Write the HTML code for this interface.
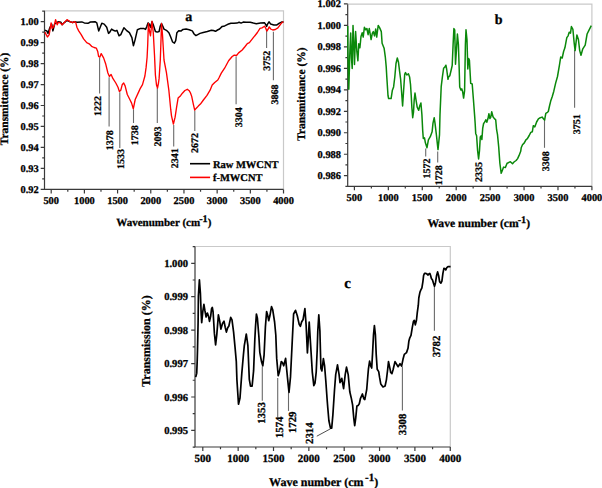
<!DOCTYPE html>
<html><head><meta charset="utf-8"><style>
html,body{margin:0;padding:0;background:#fff;}
svg{display:block;}
text{stroke:#000;stroke-width:0.28px;fill:#000;}
</style></head><body>
<svg width="602" height="488" viewBox="0 0 602 488" font-family="Liberation Serif" font-weight="bold" text-rendering="geometricPrecision" stroke-linecap="butt">
<rect width="602" height="488" fill="#fff"/>
<path d="M44.5,10.8H283.5V189.4" fill="none" stroke="#c9c9c9" stroke-width="1.2"/>
<path d="M44.5,10.8V189.4H283.5" fill="none" stroke="#3a3a3a" stroke-width="1.2"/>
<path d="M51.20,189.4v4 M67.80,189.4v2.3 M84.39,189.4v4 M100.98,189.4v2.3 M117.58,189.4v4 M134.18,189.4v2.3 M150.77,189.4v4 M167.36,189.4v2.3 M183.96,189.4v4 M200.55,189.4v2.3 M217.15,189.4v4 M233.74,189.4v2.3 M250.34,189.4v4 M266.93,189.4v2.3 M283.53,189.4v4 M283.50,189.4v4" stroke="#3a3a3a" stroke-width="1.2"/>
<path d="M44.5,189.40h-3.8 M44.5,168.43h-3.8 M44.5,147.45h-3.8 M44.5,126.47h-3.8 M44.5,105.50h-3.8 M44.5,84.53h-3.8 M44.5,63.55h-3.8 M44.5,42.57h-3.8 M44.5,21.60h-3.8 M44.5,178.91h-2.3 M44.5,157.94h-2.3 M44.5,136.96h-2.3 M44.5,115.99h-2.3 M44.5,95.01h-2.3 M44.5,74.04h-2.3 M44.5,53.06h-2.3 M44.5,32.09h-2.3 M44.5,11.11h-2.3" stroke="#3a3a3a" stroke-width="1.2"/>
<text x="38.7" y="192.94" text-anchor="end" font-size="10.4">0.92</text>
<text x="38.7" y="171.96" text-anchor="end" font-size="10.4">0.93</text>
<text x="38.7" y="150.99" text-anchor="end" font-size="10.4">0.94</text>
<text x="38.7" y="130.01" text-anchor="end" font-size="10.4">0.95</text>
<text x="38.7" y="109.04" text-anchor="end" font-size="10.4">0.96</text>
<text x="38.7" y="88.06" text-anchor="end" font-size="10.4">0.97</text>
<text x="38.7" y="67.09" text-anchor="end" font-size="10.4">0.98</text>
<text x="38.7" y="46.11" text-anchor="end" font-size="10.4">0.99</text>
<text x="38.7" y="25.14" text-anchor="end" font-size="10.4">1.00</text>
<text x="51.20" y="203.5" text-anchor="middle" font-size="10.4">500</text>
<text x="84.39" y="203.5" text-anchor="middle" font-size="10.4">1000</text>
<text x="117.58" y="203.5" text-anchor="middle" font-size="10.4">1500</text>
<text x="150.77" y="203.5" text-anchor="middle" font-size="10.4">2000</text>
<text x="183.96" y="203.5" text-anchor="middle" font-size="10.4">2500</text>
<text x="217.15" y="203.5" text-anchor="middle" font-size="10.4">3000</text>
<text x="250.34" y="203.5" text-anchor="middle" font-size="10.4">3500</text>
<text x="283.53" y="203.5" text-anchor="middle" font-size="10.4">4000</text>
<path d="M347.7,4.2H591.9V186.3" fill="none" stroke="#c9c9c9" stroke-width="1.2"/>
<path d="M347.7,4.2V186.3H591.9" fill="none" stroke="#3a3a3a" stroke-width="1.2"/>
<path d="M354.40,186.3v4 M371.36,186.3v2.3 M388.33,186.3v4 M405.29,186.3v2.3 M422.26,186.3v4 M439.22,186.3v2.3 M456.19,186.3v4 M473.15,186.3v2.3 M490.12,186.3v4 M507.08,186.3v2.3 M524.05,186.3v4 M541.01,186.3v2.3 M557.98,186.3v4 M574.95,186.3v2.3 M591.91,186.3v4 M591.90,186.3v4" stroke="#3a3a3a" stroke-width="1.2"/>
<path d="M347.7,175.70h-3.8 M347.7,154.23h-3.8 M347.7,132.76h-3.8 M347.7,111.29h-3.8 M347.7,89.82h-3.8 M347.7,68.35h-3.8 M347.7,46.88h-3.8 M347.7,25.41h-3.8 M347.7,3.94h-3.8 M347.7,186.44h-2.3 M347.7,164.96h-2.3 M347.7,143.50h-2.3 M347.7,122.02h-2.3 M347.7,100.55h-2.3 M347.7,79.08h-2.3 M347.7,57.61h-2.3 M347.7,36.14h-2.3 M347.7,14.67h-2.3" stroke="#3a3a3a" stroke-width="1.2"/>
<text x="341.0" y="179.24" text-anchor="end" font-size="10.4">0.986</text>
<text x="341.0" y="157.77" text-anchor="end" font-size="10.4">0.988</text>
<text x="341.0" y="136.30" text-anchor="end" font-size="10.4">0.990</text>
<text x="341.0" y="114.83" text-anchor="end" font-size="10.4">0.992</text>
<text x="341.0" y="93.36" text-anchor="end" font-size="10.4">0.994</text>
<text x="341.0" y="71.89" text-anchor="end" font-size="10.4">0.996</text>
<text x="341.0" y="50.42" text-anchor="end" font-size="10.4">0.998</text>
<text x="341.0" y="28.95" text-anchor="end" font-size="10.4">1.000</text>
<text x="341.0" y="7.48" text-anchor="end" font-size="10.4">1.002</text>
<text x="354.40" y="201.2" text-anchor="middle" font-size="10.4">500</text>
<text x="388.33" y="201.2" text-anchor="middle" font-size="10.4">1000</text>
<text x="422.26" y="201.2" text-anchor="middle" font-size="10.4">1500</text>
<text x="456.19" y="201.2" text-anchor="middle" font-size="10.4">2000</text>
<text x="490.12" y="201.2" text-anchor="middle" font-size="10.4">2500</text>
<text x="524.05" y="201.2" text-anchor="middle" font-size="10.4">3000</text>
<text x="557.98" y="201.2" text-anchor="middle" font-size="10.4">3500</text>
<text x="591.91" y="201.2" text-anchor="middle" font-size="10.4">4000</text>
<path d="M195.0,246.5H450.3V447.0" fill="none" stroke="#c9c9c9" stroke-width="1.2"/>
<path d="M195.0,246.5V447.0H450.3" fill="none" stroke="#3a3a3a" stroke-width="1.2"/>
<path d="M202.80,447.0v4 M220.48,447.0v2.3 M238.15,447.0v4 M255.83,447.0v2.3 M273.50,447.0v4 M291.18,447.0v2.3 M308.85,447.0v4 M326.53,447.0v2.3 M344.20,447.0v4 M361.88,447.0v2.3 M379.55,447.0v4 M397.23,447.0v2.3 M414.90,447.0v4 M432.58,447.0v2.3 M450.25,447.0v4 M450.30,447.0v4" stroke="#3a3a3a" stroke-width="1.2"/>
<path d="M195.0,430.40h-3.8 M195.0,396.98h-3.8 M195.0,363.56h-3.8 M195.0,330.14h-3.8 M195.0,296.72h-3.8 M195.0,263.30h-3.8 M195.0,447.11h-2.3 M195.0,413.69h-2.3 M195.0,380.27h-2.3 M195.0,346.85h-2.3 M195.0,313.43h-2.3 M195.0,280.01h-2.3 M195.0,246.59h-2.3" stroke="#3a3a3a" stroke-width="1.2"/>
<text x="188.0" y="434.00" text-anchor="end" font-size="10.6">0.995</text>
<text x="188.0" y="400.58" text-anchor="end" font-size="10.6">0.996</text>
<text x="188.0" y="367.16" text-anchor="end" font-size="10.6">0.997</text>
<text x="188.0" y="333.74" text-anchor="end" font-size="10.6">0.998</text>
<text x="188.0" y="300.32" text-anchor="end" font-size="10.6">0.999</text>
<text x="188.0" y="266.90" text-anchor="end" font-size="10.6">1.000</text>
<text x="202.80" y="462.0" text-anchor="middle" font-size="11">500</text>
<text x="238.15" y="462.0" text-anchor="middle" font-size="11">1000</text>
<text x="273.50" y="462.0" text-anchor="middle" font-size="11">1500</text>
<text x="308.85" y="462.0" text-anchor="middle" font-size="11">2000</text>
<text x="344.20" y="462.0" text-anchor="middle" font-size="11">2500</text>
<text x="379.55" y="462.0" text-anchor="middle" font-size="11">3000</text>
<text x="414.90" y="462.0" text-anchor="middle" font-size="11">3500</text>
<text x="450.25" y="462.0" text-anchor="middle" font-size="11">4000</text>
<path d="M99.6,57.9V93.5" stroke="#6a6a6a" stroke-width="1.1"/>
<path d="M109.1,77.3V126.5" stroke="#6a6a6a" stroke-width="1.1"/>
<path d="M119.8,92.3V148" stroke="#6a6a6a" stroke-width="1.1"/>
<path d="M133.5,109.3V123" stroke="#6a6a6a" stroke-width="1.1"/>
<path d="M157.3,88V123" stroke="#6a6a6a" stroke-width="1.1"/>
<path d="M173.7,125.1V146.6" stroke="#6a6a6a" stroke-width="1.1"/>
<path d="M194.8,110.8V130.9" stroke="#6a6a6a" stroke-width="1.1"/>
<path d="M236.1,56.5V104.3" stroke="#6a6a6a" stroke-width="1.1"/>
<path d="M266.6,31V47.9" stroke="#6a6a6a" stroke-width="1.1"/>
<path d="M273.4,31.8V80.2" stroke="#6a6a6a" stroke-width="1.1"/>
<text transform="translate(100.90,116.00) rotate(-90)" font-size="10" fill="#111">1222</text>
<text transform="translate(112.80,150.20) rotate(-90)" font-size="10" fill="#111">1378</text>
<text transform="translate(124.20,168.90) rotate(-90)" font-size="10" fill="#111">1533</text>
<text transform="translate(137.80,145.20) rotate(-90)" font-size="10" fill="#111">1738</text>
<text transform="translate(160.60,146.60) rotate(-90)" font-size="10" fill="#111">2093</text>
<text transform="translate(178.40,168.20) rotate(-90)" font-size="10" fill="#111">2341</text>
<text transform="translate(197.90,153.10) rotate(-90)" font-size="10" fill="#111">2672</text>
<text transform="translate(241.90,127.20) rotate(-90)" font-size="10" fill="#111">3304</text>
<text transform="translate(270.40,70.80) rotate(-90)" font-size="10" fill="#111">3752</text>
<text transform="translate(278.30,104.60) rotate(-90)" font-size="10" fill="#111">3868</text>
<path d="M190,163.7H210.1" stroke="#000" stroke-width="1.6"/>
<path d="M190,177.4H210.1" stroke="#f00" stroke-width="1.6"/>
<text x="212.9" y="167.6" font-size="10.5">Raw MWCNT</text>
<text x="212.9" y="181.2" font-size="10.5">f-MWCNT</text>
<text x="185.3" y="20.6" font-size="14">a</text>
<polyline points="44.9,30.3 46.8,30.9 48.0,33.4 49.8,27.8 51.7,24.1 52.9,30.9 54.8,23.5 56.6,22.9 58.4,21.7 60.9,22.3 62.1,24.8 64.6,22.3 67.0,20.5 70.1,21.7 72.6,22.5 74.4,21.7 76.9,22.3 81.8,21.9 84.3,22.9 88.0,23.3 90.4,22.0 95.0,21.7 96.8,22.9 98.7,30.9 100.2,27.2 101.8,23.3 104.2,24.1 106.7,27.2 108.5,33.4 109.8,32.1 111.6,29.1 113.4,30.3 115.3,31.1 116.9,30.3 119.0,35.8 120.8,34.6 123.9,27.8 126.4,30.3 129.4,32.7 131.9,37.7 133.4,45.7 135.0,40.1 137.4,29.7 140.5,28.4 143.7,28.4 145.5,29.4 146.8,26.6 148.0,22.9 149.2,24.1 150.5,27.2 152.0,21.7 153.5,25.4 155.4,31.5 157.2,32.1 159.1,31.5 160.3,26.0 161.5,23.5 162.7,26.0 164.0,29.1 166.4,30.3 168.9,32.7 170.7,37.0 172.6,42.0 174.4,43.2 175.7,40.7 176.9,32.7 178.7,30.7 181.2,30.9 183.0,29.4 186.1,29.1 189.2,29.7 192.3,30.9 194.1,34.0 195.9,35.6 197.8,34.6 200.0,33.4 203.2,32.5 207.3,31.5 211.4,30.3 213.4,30.5 215.5,31.3 217.5,30.0 219.6,29.0 222.2,26.4 224.7,25.9 227.8,24.3 230.9,23.3 233.9,23.3 237.0,23.1 239.1,22.3 241.1,23.1 243.2,22.1 246.1,22.3 250.2,22.3 253.3,23.1 256.4,23.8 260.5,23.1 264.6,22.8 265.6,24.3 266.6,26.4 267.7,23.8 269.0,21.8 270.7,24.1 273.8,24.9 276.9,24.9 279.4,23.1 281.5,22.1 283.5,22.1" fill="none" stroke="#000" stroke-width="1.5" stroke-linejoin="round"/>
<polyline points="44.9,32.1 47.4,37.0 49.2,34.6 51.1,22.9 52.3,28.4 54.1,26.0 55.6,19.6 57.2,24.8 58.4,22.3 60.3,22.9 62.1,24.8 64.6,22.3 67.0,19.6 70.1,21.7 72.6,22.7 74.4,21.7 75.7,22.3 76.9,27.2 78.7,30.9 81.2,34.6 83.6,38.9 86.7,42.6 89.2,43.8 91.6,46.3 94.1,47.5 96.3,48.1 97.8,51.8 98.6,56.5 99.8,57.2 101.2,53.6 103.6,57.9 105.8,64.3 107.9,73.0 109.4,76.5 111.1,74.4 113.0,78.7 115.8,83.0 118.0,87.3 119.4,91.6 120.8,90.2 122.3,84.4 123.7,83.0 125.1,85.9 127.3,94.5 130.2,100.2 131.6,103.1 133.3,108.8 135.2,99.5 138.8,91.6 140.0,88.9 142.5,84.6 144.9,76.0 146.1,67.4 147.1,57.2 147.7,45.0 148.4,23.5 149.5,31.0 150.5,35.8 151.3,28.0 152.0,21.1 153.3,33.0 154.5,55.0 155.4,75.0 156.5,85.0 157.5,88.0 158.5,83.0 159.1,78.4 160.3,60.0 161.0,40.0 161.5,23.5 162.5,35.0 164.0,60.0 166.4,72.3 168.9,90.7 170.7,109.2 171.5,115.8 173.4,124.1 175.1,117.2 176.6,107.2 178.1,98.1 180.6,95.7 182.4,93.2 184.9,90.5 187.3,89.3 189.2,90.7 190.5,93.0 191.7,96.4 193.2,103.6 194.7,110.2 196.3,108.2 198.3,106.1 200.4,104.1 203.4,100.0 207.0,95.4 210.1,90.2 212.2,85.1 214.7,82.6 217.8,80.0 218.9,78.0 221.3,73.1 224.6,68.2 228.6,60.8 232.2,56.5 234.3,55.1 236.5,55.5 238.6,52.9 242.2,50.0 245.1,46.5 247.3,43.6 249.4,42.6 253.3,37.7 257.4,32.5 260.0,28.4 262.0,27.9 264.6,26.2 265.8,28.4 266.8,31.0 268.2,29.0 269.2,26.9 270.7,29.0 272.8,30.0 275.3,29.5 277.9,27.9 280.5,24.3 282.5,22.1 283.5,21.8" fill="none" stroke="#f00" stroke-width="1.35" stroke-linejoin="round"/>
<text x="116.3" y="226.3" font-size="11">Wavenumber (cm<tspan font-size="10.2" dx="-1" dy="-4.6">-1</tspan><tspan dy="4.6">)</tspan></text>
<text transform="translate(7.9,145.2) rotate(-90)" font-size="11.4">Transmittance (%)</text>
<path d="M425.7,148.4V156.4" stroke="#6a6a6a" stroke-width="1.1"/>
<path d="M437.7,151.4V162.5" stroke="#6a6a6a" stroke-width="1.1"/>
<path d="M544.5,120.1V147.8" stroke="#6a6a6a" stroke-width="1.1"/>
<path d="M574.6,50V107.8" stroke="#6a6a6a" stroke-width="1.1"/>
<text transform="translate(429.70,178.50) rotate(-90)" font-size="10" fill="#111">1572</text>
<text transform="translate(442.30,185.20) rotate(-90)" font-size="10" fill="#111">1728</text>
<text transform="translate(482.40,182.00) rotate(-90)" font-size="10" fill="#111">2335</text>
<text transform="translate(548.70,171.20) rotate(-90)" font-size="10" fill="#111">3308</text>
<text transform="translate(579.50,134.30) rotate(-90)" font-size="10" fill="#111">3751</text>
<text x="494.8" y="24.3" font-size="14">b</text>
<polyline points="347.7,26.0 347.9,50.8 348.8,89.2 349.9,50.8 350.7,33.1 351.5,58.5 352.2,68.5 353.0,25.4 354.1,50.8 354.5,64.6 355.6,31.5 356.8,50.8 357.9,60.8 358.8,43.8 359.9,47.7 361.0,36.5 362.2,32.8 363.2,37.1 364.4,27.3 365.7,29.8 366.9,28.5 368.1,34.7 369.3,28.5 371.1,39.6 372.3,33.4 373.3,31.6 374.5,35.9 375.7,29.1 376.7,37.1 378.2,25.5 379.7,27.9 381.3,31.6 382.1,43.3 384.1,48.2 385.3,56.8 386.2,66.6 386.8,77.0 388.0,95.5 388.6,98.6 391.1,98.6 392.3,90.6 393.6,86.9 394.8,77.0 396.0,63.5 397.3,58.0 398.5,62.3 399.7,72.1 400.6,79.0 401.3,88.0 402.6,106.0 403.7,89.2 404.7,74.4 405.5,72.6 406.8,75.0 408.4,73.8 409.6,76.9 410.5,84.3 411.2,95.0 411.9,108.0 412.7,117.7 413.5,112.1 414.2,100.0 415.0,93.1 416.0,99.8 417.2,107.2 418.7,110.3 419.7,106.0 420.9,102.9 421.9,114.6 422.7,130.6 423.3,138.5 424.5,137.9 425.4,142.8 427.0,147.7 428.4,139.8 430.3,136.7 432.1,131.8 433.0,123.2 434.2,117.7 435.0,123.2 436.4,134.8 438.0,149.6 439.5,134.8 440.0,114.6 441.2,86.7 442.4,76.9 443.6,68.3 444.9,67.0 445.9,65.2 446.7,69.5 448.0,79.3 448.6,76.9 449.8,75.7 451.0,70.7 452.2,65.5 453.1,44.6 453.9,28.6 454.7,29.8 455.5,64.3 456.4,50.7 457.4,34.1 458.4,44.6 459.2,69.2 459.7,87.0 460.9,90.1 461.8,88.9 462.6,91.4 463.6,98.1 464.6,90.7 465.4,44.6 466.0,29.8 467.0,40.0 467.8,69.0 468.7,58.5 469.4,60.0 470.3,76.0 470.7,83.4 472.2,84.0 473.4,99.3 474.7,116.6 475.2,124.0 475.7,133.4 476.6,135.8 477.6,150.6 478.6,158.9 479.5,150.6 480.3,137.0 481.1,135.8 481.9,139.5 482.7,128.4 483.6,123.5 484.6,122.3 485.8,119.8 486.8,122.3 488.0,118.6 488.9,113.7 489.9,118.6 490.7,117.4 491.7,111.8 493.0,116.8 494.4,118.6 495.7,119.8 496.6,129.7 497.5,134.6 498.7,146.9 499.9,163.5 501.2,173.3 502.2,170.7 503.6,167.1 505.3,167.6 507.1,163.3 508.4,162.7 510.4,161.7 512.5,163.7 514.0,162.0 516.1,160.5 517.6,158.6 519.1,155.4 520.7,151.3 521.2,147.8 522.5,144.7 524.3,142.9 525.9,139.8 527.4,138.6 529.2,135.5 530.8,132.4 532.3,131.8 533.3,125.7 534.8,126.9 536.6,122.0 538.4,118.9 540.3,117.7 542.1,117.1 543.6,118.9 544.6,120.1 545.8,113.4 547.0,112.7 548.3,111.5 549.5,106.0 550.7,101.1 552.2,96.8 553.8,91.2 555.7,82.9 557.5,76.5 559.4,65.4 560.7,57.1 562.2,58.0 563.6,51.5 564.9,47.8 566.8,37.7 568.1,35.8 569.2,32.2 570.5,33.1 571.4,26.6 572.9,29.4 574.2,43.2 575.1,50.6 576.9,34.9 578.4,39.5 579.7,50.6 581.0,55.2 582.8,48.8 585.2,45.1 587.1,34.0 588.9,30.3 591.3,25.7" fill="none" stroke="#0a880a" stroke-width="1.5" stroke-linejoin="round"/>
<text x="427.4" y="227.3" font-size="11.6">Wave number (cm<tspan font-size="10.2" dx="-1" dy="-4.6">-1</tspan><tspan dy="4.6">)</tspan></text>
<text transform="translate(304.8,140.8) rotate(-90)" font-size="11.5">Transmittance (%)</text>
<path d="M262.3,366.4V400.8" stroke="#6a6a6a" stroke-width="1.1"/>
<path d="M277.7,378.0V417.3" stroke="#6a6a6a" stroke-width="1.1"/>
<path d="M288.5,392.5V410.9" stroke="#6a6a6a" stroke-width="1.1"/>
<path d="M402.4,366.6V410.6" stroke="#6a6a6a" stroke-width="1.1"/>
<path d="M434.4,286.3V330.7" stroke="#6a6a6a" stroke-width="1.1"/>
<path d="M330.7,428.7L316.8,436.2" stroke="#222" stroke-width="0.8"/>
<text transform="translate(264.77,423.80) rotate(-90)" font-size="10.8" fill="#111">1353</text>
<text transform="translate(282.87,438.10) rotate(-90)" font-size="10.8" fill="#111">1574</text>
<text transform="translate(295.67,433.10) rotate(-90)" font-size="10.8" fill="#111">1729</text>
<text transform="translate(312.67,444.00) rotate(-90)" font-size="10.8" fill="#111">2314</text>
<text transform="translate(406.27,435.20) rotate(-90)" font-size="10.8" fill="#111">3308</text>
<text transform="translate(440.27,357.30) rotate(-90)" font-size="10.8" fill="#111">3782</text>
<text x="344.3" y="288.3" font-size="15">c</text>
<polyline points="195.7,377.1 196.7,373.4 197.2,361.1 197.5,350.0 198.1,322.3 198.4,295.7 199.4,279.8 200.4,293.3 201.2,314.2 201.7,322.6 202.8,311.7 203.9,304.3 204.9,310.5 206.1,317.0 207.4,313.0 208.6,316.6 209.5,321.3 210.7,316.1 211.5,309.0 212.3,307.4 213.1,312.0 214.4,333.4 215.6,345.0 216.8,334.6 218.4,314.9 219.7,321.1 220.9,329.1 222.5,323.5 224.0,321.1 225.2,327.2 226.4,332.1 227.7,327.8 228.9,326.0 230.7,317.4 232.0,319.8 233.6,332.1 235.0,346.9 236.3,361.6 236.9,379.6 238.5,404.2 240.0,398.0 241.8,373.4 243.4,355.0 244.3,345.7 246.3,334.0 247.9,345.7 249.3,379.3 250.5,386.1 252.1,386.1 253.6,370.7 254.8,340.0 255.5,326.9 256.4,314.0 257.4,318.3 258.9,336.7 259.8,352.3 261.6,362.1 262.8,365.8 264.1,354.8 265.4,326.9 266.6,311.5 267.8,315.8 268.7,320.7 269.9,315.8 271.5,306.6 272.7,309.7 274.6,322.0 275.8,335.0 276.7,358.4 278.2,375.7 279.4,372.0 281.3,361.5 282.5,362.7 283.7,365.8 285.6,358.4 287.4,376.9 289.0,392.3 290.5,376.9 292.3,340.0 293.6,314.0 295.5,310.3 297.3,315.8 299.2,324.4 300.4,326.3 301.6,322.0 303.1,319.5 304.9,308.6 306.1,324.6 307.4,352.9 308.4,336.9 309.2,322.1 310.5,343.0 312.3,372.1 313.8,385.7 315.0,383.2 316.2,372.1 317.2,350.0 317.8,330.7 318.8,314.8 319.9,330.7 320.9,368.4 321.9,370.9 323.4,358.6 324.6,366.0 325.8,380.7 327.1,399.2 327.8,408.0 328.9,420.7 330.5,428.1 331.7,428.1 332.9,414.6 334.5,390.0 335.7,374.6 337.5,364.8 339.1,374.6 340.0,382.6 341.8,378.3 343.6,388.7 345.2,374.6 346.5,367.2 348.2,374.6 349.8,391.8 351.4,398.6 352.6,404.8 353.8,418.3 354.7,425.7 355.7,418.3 356.9,406.0 358.1,405.4 359.3,403.8 360.5,398.3 362.4,394.0 363.9,398.9 364.8,399.5 366.7,389.7 367.9,375.0 368.4,369.2 369.6,361.2 370.8,366.1 371.7,368.0 372.5,354.4 373.5,334.8 374.4,325.5 375.4,334.8 376.2,354.4 377.2,369.2 378.7,371.6 379.6,377.4 380.8,384.1 383.0,387.0 385.1,386.0 386.4,379.8 387.6,370.0 388.5,361.6 390.1,369.2 390.7,372.5 391.9,373.7 393.2,369.2 395.0,361.6 396.6,364.3 398.1,366.7 400.0,363.6 401.6,366.1 403.0,359.3 404.3,354.4 406.5,352.6 408.0,348.3 408.9,340.9 409.8,337.8 411.0,335.4 412.3,327.4 413.5,321.2 414.3,320.3 415.3,324.9 416.5,320.0 417.3,312.4 418.3,305.2 418.8,298.0 419.9,292.4 420.9,289.8 421.9,287.8 422.9,281.6 423.6,275.5 424.5,273.4 426.0,273.4 427.0,274.0 428.1,275.0 428.8,274.0 429.8,273.4 430.6,275.5 431.4,278.6 432.5,280.1 433.5,283.2 434.5,286.3 435.5,282.7 436.6,275.5 437.6,271.9 438.6,275.5 439.6,281.6 440.9,283.2 441.9,281.1 442.9,273.4 443.9,268.3 445.0,268.8 445.8,269.9 446.8,267.6 448.0,266.6 450.6,266.6" fill="none" stroke="#000" stroke-width="1.7" stroke-linejoin="round"/>
<text x="269.1" y="485.6" font-size="12">Wave number (cm<tspan font-size="11" dx="1.5" dy="-4.6">-1</tspan><tspan dy="4.6">)</tspan></text>
<text transform="translate(149.6,386.8) rotate(-90)" font-size="12">Transmission (%)</text>
</svg>
</body></html>
